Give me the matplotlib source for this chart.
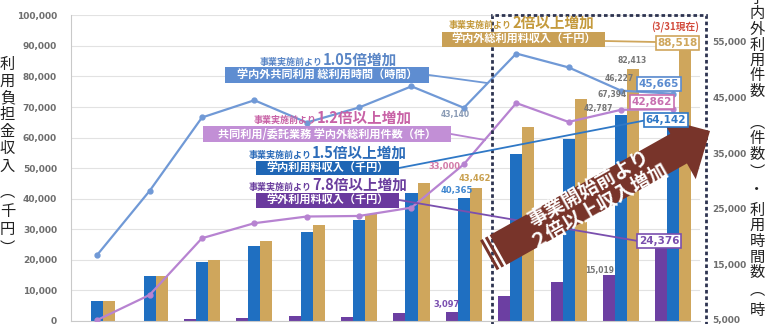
import matplotlib
matplotlib.use('Agg')
import matplotlib.pyplot as plt
from matplotlib.patches import Polygon, Rectangle
from matplotlib.lines import Line2D
import numpy as np

plt.rcParams['font.family'] = ['Noto Sans CJK JP', 'DejaVu Sans']

# ---------------- data ----------------
periods = list(range(12))                      # fiscal periods (axis labels cropped in source)
campus_fee   = [6500, 14800, 19400, 24600, 29200, 33000, 42000, 40365, 54600, 59400, 67394, 64142]   # 学内利用料収入(千円)
external_fee = [0, 0, 600, 1100, 1700, 1400, 2500, 3097, 8300, 12600, 15019, 24376]                  # 学外利用料収入(千円)
total_fee    = [6500, 14800, 20100, 26200, 31500, 35000, 45300, 43462, 63500, 72500, 82413, 88518]   # 学内外総利用料収入(千円)
usage_hours  = [16700, 28200, 41400, 44500, 40500, 43200, 47000, 43140, 52900, 50400, 46227, 45665]  # 総利用時間(時間)
usage_count  = [5000, 9500, 19700, 22400, 23600, 23700, 25200, 33000, 44000, 40600, 42787, 42862]    # 総利用件数(件)
left_ticks = list(range(0, 100001, 10000))
right_ticks = list(range(5000, 55001, 10000))

C_BLUE = '#1f6fc1'
C_GOLD = '#cfa65c'
C_PURP = '#6c3fa2'
C_LBLUE = '#7099d6'
C_LAV = '#b783d1'

W, H = 771, 324
fig = plt.figure(figsize=(W / 100, H / 100), dpi=100)
fig.patch.set_facecolor('white')


def fx(x):
    return x / W


def fy(y):
    return 1 - y / H


ax = fig.add_axes([fx(71), 3 / H, (699.6 - 71) / W, (321 - 15.3) / H])
ax.set_xlim(-0.5, 11.5)
ax.set_ylim(0, 100000)
ax.set_yticks(left_ticks)
ax.set_yticklabels([f"{v:,}" for v in left_ticks], fontsize=6.5, color='#6e6e6e',
                   fontweight='bold', family='DejaVu Sans')
ax.tick_params(axis='y', length=0, pad=10)
ax.set_xticks([])
ax.yaxis.grid(True, color='#e2e2e2', lw=0.8)
ax.set_axisbelow(True)
for s in ['top', 'right']:
    ax.spines[s].set_visible(False)
ax.spines['left'].set_color('#c9c9c9')
ax.spines['bottom'].set_color('#c9c9c9')

x = np.arange(len(periods))
w = 0.23
ax.bar(x - w, external_fee, w, color=C_PURP)
ax.bar(x, campus_fee, w, color=C_BLUE)
ax.bar(x + w, total_fee, w, color=C_GOLD)

ax2 = ax.twinx()
ax2.set_ylim(4820, 59770)
ax2.set_yticks(right_ticks)
ax2.set_yticklabels([f"{v:,}" for v in right_ticks], fontsize=6.5, color='#6e6e6e',
                    fontweight='bold', family='DejaVu Sans')
ax2.tick_params(axis='y', length=0, pad=9)
for s in ax2.spines.values():
    s.set_visible(False)
ax2.plot(x, usage_hours, color=C_LBLUE, lw=1.6, marker='o', ms=3.5)
ax2.plot(x, usage_count, color=C_LAV, lw=1.6, marker='o', ms=3.5)

# ---------------- dashed frame ----------------
fig.add_artist(Rectangle((fx(492), fy(335)), fx(706) - fx(492), fy(15) - fy(335),
                         transform=fig.transFigure, fill=False, ec='#2d3350', lw=2,
                         ls=(0, (1.3, 1.0)), zorder=1.2))

# ---------------- leader lines ----------------
def leader(p0, p1, color):
    fig.add_artist(Line2D([fx(p0[0]), fx(p1[0])], [fy(p0[1]), fy(p1[1])],
                          transform=fig.transFigure, color=color, lw=1.3, zorder=1.5))


leader((605, 41), (655, 42), C_GOLD)
leader((429, 75), (487, 83), C_LBLUE)
leader((451, 134), (485, 140), C_LAV)
leader((399, 168), (647, 120), '#2f78c6')
leader((399, 200), (638, 241), '#7a4fae')

# ---------------- arrow ----------------
T = np.array([498.0, 250.0])
P = np.array([710.0, 131.0])
u = (P - T) / np.linalg.norm(P - T)
n = np.array([-u[1], u[0]])
Hh = P - 36 * u
bw, hw = 17, 35
pts = [T - bw * n, Hh - bw * n, Hh - hw * n, P, Hh + hw * n, Hh + bw * n, T + bw * n]
C_ARR = '#78342a'
fig.add_artist(Polygon([(fx(p[0]), fy(p[1])) for p in pts], closed=True,
                       transform=fig.transFigure, fc=C_ARR, ec='none', zorder=2))
for a, b in [(2.5, 5.5), (8.0, 11.0)]:
    q = [T - a * u - bw * n, T - b * u - bw * n, T - b * u + bw * n, T - a * u + bw * n]
    fig.add_artist(Polygon([(fx(p[0]), fy(p[1])) for p in q], closed=True,
                           transform=fig.transFigure, fc=C_ARR, ec='none', zorder=2))
ang = np.degrees(np.arctan2(-(P[1] - T[1]), P[0] - T[0]))
fig.text(fx(594), fy(197), "事業開始前より\n２倍以上収入増加", rotation=ang, ha='center',
         va='center', color='white', fontsize=14, fontweight='bold', linespacing=0.95,
         rotation_mode='anchor', zorder=2.5)

# ---------------- headings and label boxes ----------------
def heading(xs, yb, small, big, color):
    fig.text(fx(xs), fy(yb), small, ha='right', va='baseline', fontsize=6.5,
             color=color, fontweight='bold', zorder=4)
    fig.text(fx(xs), fy(yb), big, ha='left', va='baseline', fontsize=10.5,
             color=color, fontweight='bold', zorder=4)


def label_box(x0, x1, y0, y1, text, fc):
    fig.add_artist(Rectangle((fx(x0), fy(y1)), fx(x1) - fx(x0), fy(y0) - fy(y1),
                             transform=fig.transFigure, fc=fc, ec='none', zorder=3))
    fig.text(fx((x0 + x1) / 2), fy((y0 + y1) / 2), text, ha='center', va='center',
             color='white', fontsize=8, fontweight='bold', zorder=4)


heading(323, 65, "事業実施前より", "1.05倍増加", '#5a86c6')
label_box(225, 429, 67, 83, "学内外共同利用 総利用時間（時間）", '#5e8dd1')
heading(317, 123, "事業実施前より", "1.2倍以上増加", '#c862a6')
label_box(203, 451, 126, 142, "共同利用/委託業務 学内外総利用件数（件）", '#c28fd6')
heading(312, 158, "事業実施前より", "1.5倍以上増加", '#2c6cb9')
label_box(256, 399, 161, 175, "学内利用料収入（千円）", '#1f66b5')
heading(312, 190, "事業実施前より", "7.8倍以上増加", '#6a3e9e')
label_box(256, 399, 193, 208, "学外利用料収入（千円）", '#6a3a9e')
heading(512, 28, "事業実施前より", "2倍以上増加", '#c49a3c')
label_box(442, 605, 32, 47, "学内外総利用料収入（千円）", '#c9a055')
fig.text(fx(675), fy(27), "(3/31現在)", ha='center', va='center', fontsize=7,
         fontweight='bold', color='#d24b3c', zorder=4)

# ---------------- value boxes ----------------
def value_box(cx, cy, val, color):
    fig.text(fx(cx), fy(cy), f"{val:,}", ha='center', va='center', fontsize=7.5,
             fontweight='bold', color=color, family='DejaVu Sans', zorder=5,
             bbox=dict(boxstyle='square,pad=0.15', fc='white', ec=color, lw=1.2))


value_box(677.5, 43, total_fee[11], C_GOLD)
value_box(659, 84, usage_hours[11], '#5a8bd0')
value_box(652, 102, usage_count[11], '#c86fb0')
value_box(666, 120, campus_fee[11], '#2f78c6')
value_box(659, 241, external_fee[11], '#7a4fae')

# ---------------- small value labels ----------------
def small(cx, cy, val, color, fs=5.5):
    fig.text(fx(cx), fy(cy), f"{val:,}", ha='center', va='center', fontsize=fs,
             fontweight='bold', color=color, family='DejaVu Sans', zorder=4)


small(455, 115, usage_hours[7], '#8a9bb5')
small(444, 167, usage_count[7], '#d27aa8', 6)
small(475, 179, total_fee[7], '#c9a04e', 6)
small(457, 190, campus_fee[7], '#3f86cf', 6)
small(447, 304, external_fee[7], '#7b4fb0', 6)
small(600, 270, external_fee[10], '#777777')
small(632, 60, total_fee[10], '#777777')
small(619, 79, usage_hours[10], '#777777')
small(612, 95, campus_fee[10], '#777777')
small(598, 109, usage_count[10], '#777777')

# ---------------- vertical axis titles ----------------
left_chars = ['利', '用', '負', '担', '金', '収', '入', '︵', '千', '円', '︶']
left_ys = [64.5, 81, 97.5, 114.5, 131.5, 149, 166, 192, 211.5, 229.5, 248]
for ch, yy in zip(left_chars, left_ys):
    fig.text(fx(7.5), fy(yy), ch, ha='center', va='center', fontsize=11, color='#222222')

right_chars = ['学', '内', '外', '利', '用', '件', '数', '︵', '件', '数', '︶',
               '・', '利', '用', '時', '間', '数', '︵', '時']
right_ys = [-2, 13.5, 29.5, 45, 60.5, 76, 91.5, 122.5, 138.5, 155, 172,
            189, 210, 225.5, 241.5, 257, 272.5, 290, 310]
for ch, yy in zip(right_chars, right_ys):
    fig.text(fx(757), fy(yy), ch, ha='center', va='center', fontsize=11, color='#222222')

fig.savefig('out.png', dpi=100)
